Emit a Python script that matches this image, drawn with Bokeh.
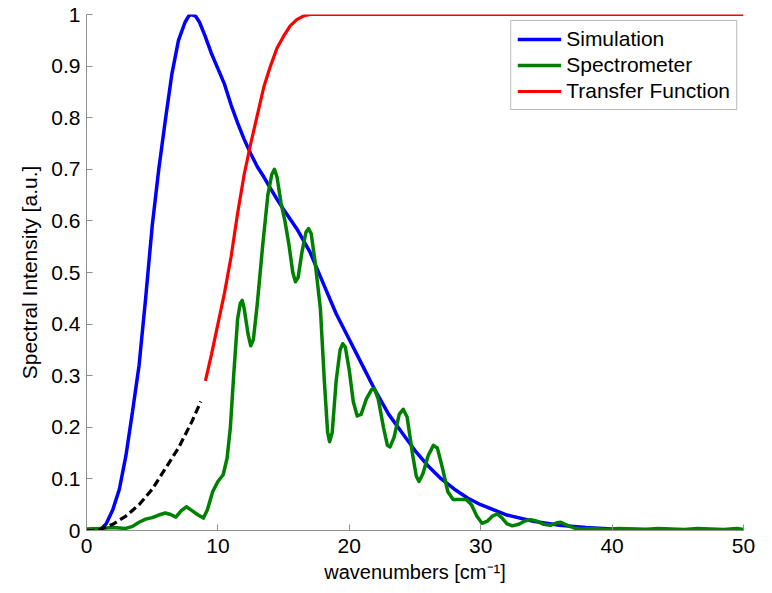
from bokeh.plotting import figure
from bokeh.models import Range1d, FixedTicker, Legend, LegendItem
from bokeh.embed import file_html
from bokeh.resources import INLINE

# ---- data ----
sim_x = [0, 1, 1.5, 2, 2.5, 3, 3.5, 4, 4.5, 5, 5.5, 6, 6.5, 7, 7.5, 7.8, 8, 8.3, 8.6, 9, 9.5,
         10, 10.5, 11, 11.5, 12, 12.5, 13, 13.5, 14, 14.5, 15, 16, 17, 18, 19, 20, 21, 22, 23,
         24, 25, 26, 27, 28, 29, 30, 32, 34, 36, 38, 40, 45, 50]
sim_y = [0, 0.0, 0.013, 0.04, 0.08, 0.145, 0.23, 0.32, 0.45, 0.59, 0.70, 0.795, 0.885, 0.95,
         0.985, 0.998, 1.0, 0.997, 0.985, 0.96, 0.925, 0.895, 0.865, 0.825, 0.79, 0.758, 0.73,
         0.705, 0.685, 0.663, 0.642, 0.622, 0.585, 0.54, 0.48, 0.42, 0.37, 0.32, 0.27, 0.225,
         0.19, 0.155, 0.125, 0.1, 0.08, 0.063, 0.05, 0.03, 0.018, 0.01, 0.006, 0.003, 0.001, 0.0]

spec_x = [0, 1, 2, 2.5, 3, 3.5, 4, 4.5, 5, 5.5, 6.0, 6.4, 6.8, 7.2, 7.6, 8.0, 8.5, 8.9, 9.2,
          9.6, 10.0, 10.4, 10.7, 10.95, 11.2, 11.5, 11.7, 11.85, 12.0, 12.3, 12.5, 12.7, 13.0,
          13.4, 13.8, 14.1, 14.3, 14.5, 14.8, 15.1, 15.4, 15.7, 15.9, 16.1, 16.4, 16.7, 16.9,
          17.1, 17.4, 17.8, 18.1, 18.35, 18.5, 18.7, 19.0, 19.3, 19.5, 19.7, 20.0, 20.3, 20.6,
          20.9, 21.3, 21.7, 21.9, 22.2, 22.6, 22.9, 23.1, 23.4, 23.8, 24.1, 24.4, 24.8, 25.1,
          25.3, 25.6, 26.0, 26.4, 26.7, 27.1, 27.5, 27.9, 28.4, 28.9, 29.3, 29.7, 30.1, 30.5,
          30.9, 31.25, 31.6, 32.0, 32.4, 32.9, 33.4, 33.8, 34.3, 34.8, 35.3, 35.8, 36.1, 36.6,
          37.1, 37.6, 38.5, 39.5, 40.5, 41.5, 42.5, 43.5, 44.5, 45.5, 46.5, 47.5, 48.5, 49.5, 50]
spec_y = [0.003, 0.004, 0.006, 0.005, 0.004, 0.008, 0.016, 0.022, 0.025, 0.03, 0.034, 0.031,
          0.026, 0.038, 0.046, 0.039, 0.03, 0.024, 0.04, 0.075, 0.095, 0.108, 0.14, 0.2, 0.3,
          0.41, 0.44, 0.446, 0.43, 0.38, 0.358, 0.37, 0.44, 0.55, 0.65, 0.69, 0.70, 0.685, 0.635,
          0.6, 0.555, 0.5, 0.482, 0.49, 0.54, 0.578, 0.585, 0.575, 0.52, 0.43, 0.29, 0.19, 0.172,
          0.19, 0.29, 0.35, 0.362, 0.355, 0.31, 0.25, 0.222, 0.225, 0.255, 0.273, 0.275, 0.255,
          0.2, 0.165, 0.162, 0.18, 0.225, 0.235, 0.22, 0.15, 0.105, 0.095, 0.11, 0.145, 0.165,
          0.16, 0.12, 0.075, 0.06, 0.06, 0.06, 0.05, 0.028, 0.014, 0.018, 0.028, 0.032, 0.025,
          0.013, 0.009, 0.012, 0.019, 0.021, 0.018, 0.012, 0.01, 0.015, 0.016, 0.01, 0.005, 0.003,
          0.004, 0.002, 0.004, 0.003, 0.002, 0.004, 0.003, 0.002, 0.004, 0.003, 0.002, 0.004, 0.002]

tf_x = [9.05, 9.5, 10, 10.5, 11, 11.5, 12, 12.5, 13, 13.5, 14, 14.5, 15, 15.5, 16, 16.5, 17,
        20, 30, 40, 50]
tf_y = [0.29, 0.34, 0.40, 0.46, 0.53, 0.615, 0.69, 0.75, 0.805, 0.86, 0.9, 0.935, 0.958,
        0.978, 0.99, 0.997, 1.0, 1.0, 1.0, 1.0, 1.0]

ext_x = [0, 0.5, 1, 2, 3, 4, 5, 6, 7, 8, 8.7]
ext_y = [0, 0.0, 0.002, 0.012, 0.028, 0.05, 0.08, 0.12, 0.16, 0.21, 0.25]

x_ticks = [0, 10, 20, 30, 40, 50]
y_ticks = [0, 0.1, 0.2, 0.3, 0.4, 0.5, 0.6, 0.7, 0.8, 0.9, 1]
y_tick_labels = ["0", "0.1", "0.2", "0.3", "0.4", "0.5", "0.6", "0.7", "0.8", "0.9", "1"]

FONT = "Liberation Sans"
AXIS_GRAY = "#8f8f8f"

p = figure(width=772, height=593, output_backend="svg", toolbar_location=None,
           x_range=Range1d(0, 50), y_range=Range1d(0, 1),
           min_border_left=86, min_border_right=29, min_border_top=14, min_border_bottom=63)
p.outline_line_color = None
p.xgrid.visible = False
p.ygrid.visible = False
p.background_fill_color = "white"
p.border_fill_color = "white"

r_sim = p.line(sim_x, sim_y, line_color="#0000ff", line_width=3.5)
r_spec = p.line(spec_x, spec_y, line_color="#008000", line_width=3.5, line_join="round")
r_tf = p.line(tf_x, tf_y, line_color="#ff0000", line_width=3.2)
p.line(ext_x, ext_y, line_color="black", line_width=3.2, line_dash="8 4")

for ax in (p.xaxis[0], p.yaxis[0]):
    ax.axis_line_color = AXIS_GRAY
    ax.major_tick_line_color = AXIS_GRAY
    ax.major_tick_in = 6
    ax.major_tick_out = 0
    ax.minor_tick_line_color = None
    ax.major_label_text_font = FONT
    ax.major_label_text_font_size = "21px"
    ax.major_label_text_color = "black"
    ax.axis_label_text_font = FONT
    ax.axis_label_text_font_style = "normal"
    ax.axis_label_text_color = "black"

p.xaxis.axis_label_text_font_size = "20px"
p.yaxis.axis_label_text_font_size = "21px"
p.xaxis.ticker = FixedTicker(ticks=x_ticks)
p.yaxis.ticker = FixedTicker(ticks=y_ticks)
p.yaxis.major_label_overrides = {t: s for t, s in zip(y_ticks, y_tick_labels)}
p.xaxis.axis_label = "wavenumbers [cm\u207b\u00b9]"
p.yaxis.axis_label = "Spectral Intensity [a.u.]"
p.xaxis.major_label_standoff = 8
p.yaxis.major_label_standoff = 6
p.xaxis.axis_label_standoff = 5
p.yaxis.axis_label_standoff = 7

legend = Legend(items=[LegendItem(label="Simulation", renderers=[r_sim]),
                       LegendItem(label="Spectrometer", renderers=[r_spec]),
                       LegendItem(label="Transfer Function", renderers=[r_tf])],
                location="top_right", margin=6)
legend.label_text_font = FONT
legend.label_text_font_size = "21px"
legend.label_text_color = "black"
legend.glyph_width = 44
legend.glyph_height = 20
legend.label_height = 20
legend.label_standoff = 5
legend.spacing = 2
legend.padding = 6
legend.border_line_color = "#777777"
legend.border_line_width = 1
legend.background_fill_color = "white"
legend.background_fill_alpha = 1
p.add_layout(legend)

open("out.html", "w").write(file_html(p, INLINE))
